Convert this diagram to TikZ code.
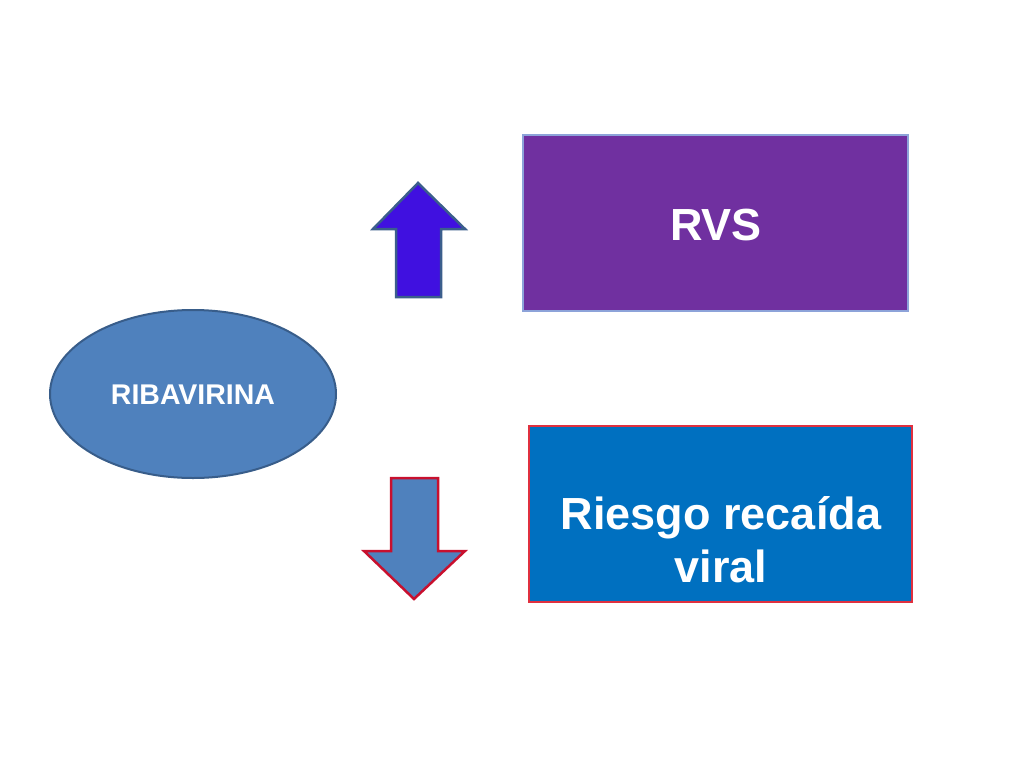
\documentclass[tikz,border=0pt]{standalone}
\usepackage{fontspec}
\setmainfont{Liberation Sans}
\usetikzlibrary{shapes.geometric}
\definecolor{upfill}{HTML}{4010E0}
\definecolor{upline}{HTML}{3B5E8C}
\definecolor{dnfill}{HTML}{4F81BD}
\definecolor{dnline}{HTML}{C8102E}
\definecolor{rvsfill}{HTML}{7030A0}
\definecolor{rvsline}{HTML}{8DA3D9}
\definecolor{rrfill}{HTML}{0070C0}
\definecolor{rrline}{HTML}{E0303F}
\definecolor{elfill}{HTML}{4F81BD}
\definecolor{elline}{HTML}{385D8A}
\begin{document}
\begin{tikzpicture}[x=1pt,y=-1pt,
  boxshape/.style={draw,rectangle,inner sep=0pt,line width=1.5pt},
  lbl/.style={text=white,font=\bfseries,inner sep=0pt,anchor=base}]
\useasboundingbox (0,0) rectangle (1024,768);
% ellipse
\node[ellipse,draw=elline,fill=elfill,line width=2pt,minimum width=286pt,minimum height=168pt,inner sep=0pt] (rib) at (193,394) {};
\node[lbl,font=\bfseries\fontsize{28.5}{32}\selectfont] (ribt) at (193,404) {RIBAVIRINA};
% RVS box
\node[boxshape,draw=rvsline,fill=rvsfill,minimum width=385pt,minimum height=176pt] (rvs) at (715.5,223) {};
\node[lbl,font=\bfseries\fontsize{45}{50}\selectfont] (rvst) at (716,240) {RVS};
% Riesgo box
\node[boxshape,draw=rrline,fill=rrfill,minimum width=383pt,minimum height=176pt] (rr) at (720.5,514) {};
\node[lbl,font=\bfseries\fontsize{45}{50}\selectfont] (rrt1) at (721,529) {Riesgo recaída};
\node[lbl,font=\bfseries\fontsize{45}{50}\selectfont] (rrt2) at (721,582) {viral};
% up arrow
\draw[draw=upline,fill=upfill,line width=2.5pt,line join=miter]
  (418,183) -- (465,229) -- (441,229) -- (441,297) -- (396,297) -- (396,229) -- (373,229) -- cycle;
% down arrow
\draw[draw=dnline,fill=dnfill,line width=2.5pt,line join=miter]
  (391,478) -- (438,478) -- (438,551) -- (465,551) -- (414,599) -- (364,551) -- (391,551) -- cycle;
\end{tikzpicture}
\end{document}
